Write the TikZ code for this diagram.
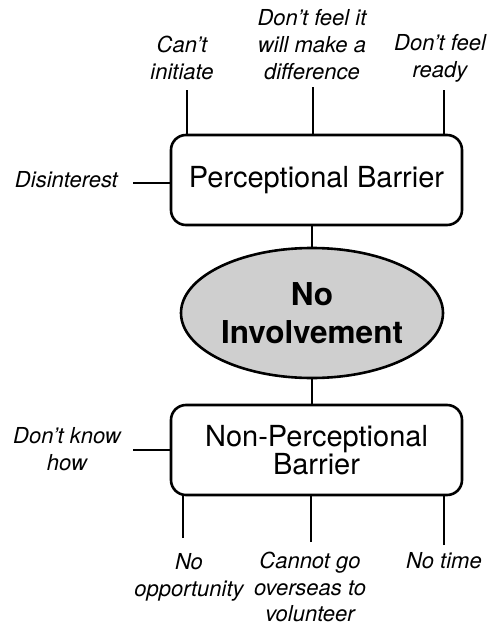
\documentclass[tikz,border=0pt]{standalone}
\usepackage{fontspec}
\setmainfont{TeX Gyre Heros}
\usetikzlibrary{shapes.geometric}
\begin{document}
\begin{tikzpicture}[x=1pt,y=-1pt,
  barrier/.style={draw,line width=2.6pt,rounded corners=15pt,minimum width=291pt,
    minimum height=90pt,inner sep=0pt,align=center,font=\fontsize{29}{29}\selectfont},
  core/.style={ellipse,draw,line width=2.6pt,fill=black!19,minimum width=262pt,
    minimum height=130pt,inner sep=0pt,align=center,font=\bfseries\fontsize{31.5}{38}\selectfont},
  cause/.style={align=center,inner sep=0pt,font=\itshape\fontsize{22}{27}\selectfont},
  link/.style={line width=2.6pt}]
\useasboundingbox (0,0) rectangle (491,626);

% central outcome and the two barrier groups
\node[barrier] (perc) at (316.5,180) {Perceptional Barrier};
\node[core] (none) at (312,313) {No\\Involvement};
\node[barrier] (nonperc) at (316.5,450) {Non-Perceptional\\[-1pt]Barrier};

\draw[link] (none.north) -- (none.north |- perc.south);
\draw[link] (none.south) -- (none.south |- nonperc.north);

% perceptional causes
\node[cause] (cant) at (182,58) {Can't\\initiate};
\node[cause] (diff) at (312,45) {Don't feel it\\will make a\\difference};
\node[cause] (ready) at (440,58) {Don't feel\\ready};
\node[cause,anchor=east] (dis) at (118,180) {Disinterest};

\coordinate (cantE) at (187,90);
\coordinate (diffE) at (313,87);
\coordinate (readyE) at (444,90);
\coordinate (disE) at (133,183);
\draw[link] (cantE) -- (cantE |- perc.north);
\draw[link] (diffE) -- (diffE |- perc.north);
\draw[link] (readyE) -- (readyE |- perc.north);
\draw[link] (disE) -- (disE -| perc.west);

% non-perceptional causes
\node[cause] (how) at (67,449) {Don't know\\how};
\node[cause] (opp) at (189,577) {No\\opportunity};
\node[cause] (over) at (310,587) {Cannot go\\overseas to\\[-1pt]volunteer};
\node[cause] (time) at (444,561) {No time};

\coordinate (howE) at (133,450);
\coordinate (oppE) at (183,538);
\coordinate (overE) at (311,542);
\coordinate (timeE) at (444,545);
\draw[link] (howE) -- (howE -| nonperc.west);
\draw[link] (oppE) -- (oppE |- nonperc.south);
\draw[link] (overE) -- (overE |- nonperc.south);
\draw[link] (timeE) -- (timeE |- nonperc.south);
\end{tikzpicture}
\end{document}
